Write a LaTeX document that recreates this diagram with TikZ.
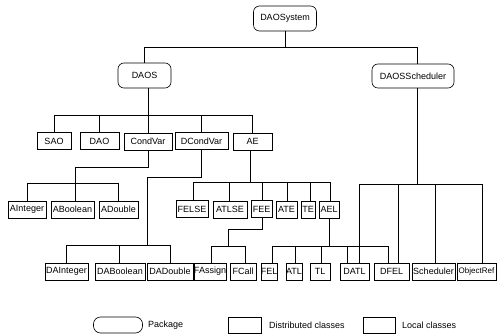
\documentclass[tikz,border=0pt]{standalone}
\usepackage{fontspec}
\setmainfont{Liberation Sans}
\begin{document}
\begin{tikzpicture}[x=1pt,y=-1pt,
  lbl/.style={font=\fontsize{9}{10}\selectfont},
  pkg/.style={draw, rounded corners=6pt, line width=0.6pt, inner sep=0pt, lbl},
  dcls/.style={draw, line width=1pt, inner sep=0pt, minimum height=17pt, lbl},
  lcls/.style={draw, line width=0.5pt, inner sep=0pt, minimum height=17pt, lbl},
  link/.style={line width=0.6pt}]
\useasboundingbox (0,0) rectangle (497,336);
% packages
\node[pkg, minimum width=63pt, minimum height=25pt] (daosystem) at (285,18.5) {DAOSystem};
\node[pkg, minimum width=53pt, minimum height=25pt] (daos) at (144.5,75.5) {DAOS};
\node[pkg, minimum width=82pt, minimum height=24pt] (daossch) at (413,76) {DAOSScheduler};
% row 1
\node[dcls, minimum width=34pt] (sao) at (54,141.5) {SAO};
\node[dcls, minimum width=39pt] (dao) at (99.5,141.5) {DAO};
\node[lcls, minimum width=48pt] (condvar) at (148,141.5) {CondVar};
\node[dcls, minimum width=53pt] (dcondvar) at (201.5,141.5) {DCondVar};
\node[lcls, minimum width=39pt] (ae) at (252.5,141.5) {AE};
% row 2
\node[lcls, minimum width=38pt] (ainteger) at (27,209.5) {AInteger};
\node[lcls, minimum width=43pt] (aboolean) at (72.5,209.5) {ABoolean};
\node[lcls, minimum width=39pt] (adouble) at (118.5,209.5) {ADouble};
\node[dcls, minimum width=32pt] (felse) at (192,209.5) {FELSE};
\node[lcls, minimum width=34pt] (atlse) at (230,209.5) {ATLSE};
\node[dcls, minimum width=21pt] (fee) at (261.5,209.5) {FEE};
\node[lcls, minimum width=21pt] (ate) at (286.5,209.5) {ATE};
\node[lcls, minimum width=14pt] (te) at (308,209.5) {TE};
\node[lcls, minimum width=20pt] (ael) at (329,209.5) {AEL};
% row 3
\node[dcls, minimum width=43pt] (dainteger) at (66.5,271.5) {DAInteger};
\node[dcls, minimum width=50pt] (daboolean) at (120,271.5) {DABoolean};
\node[dcls, minimum width=46pt] (dadouble) at (170,271.5) {DADouble};
\node[lcls, minimum width=32pt] (fassign) at (210,271.5) {FAssign};
\node[lcls, minimum width=26pt] (fcall) at (243,271.5) {FCall};
\node[lcls, minimum width=16pt] (fel) at (269,271.5) {FEL};
\node[dcls, minimum width=16pt] (atl) at (294,271.5) {ATL};
\node[lcls, minimum width=20pt] (tl) at (320,271.5) {TL};
\node[dcls, minimum width=29pt] (datl) at (354.5,271.5) {DATL};
\node[dcls, minimum width=35pt] (dfel) at (391.5,271.5) {DFEL};
\node[lcls, minimum width=43pt] (scheduler) at (433.5,271.5) {Scheduler};
\node[lcls, minimum width=38.5pt, font=\fontsize{8}{9}\selectfont] (objectref) at (476.5,271.5) {ObjectRef};
% connectors
\draw[link] (daosystem.south) -- ++(0,16) coordinate (sysbar) -| (daos.north);
\draw[link] (sysbar) -| ([xshift=4pt]daossch.north);
\draw[link] ([xshift=3.5pt]daos.south) -- ++(0,27) coordinate (daosbar);
\draw[link] (daosbar) -| (sao.north);
\draw[link] (daosbar) -| (dao.north);
\draw[link] (daosbar) -- (condvar.north);
\draw[link] (daosbar) -| (dcondvar.north);
\draw[link] (daosbar) -| ([xshift=-0.5pt]ae.north);
% CondVar
\draw[link] (condvar.south) -- ++(0,17) -| ([xshift=2.5pt]aboolean.north);
\draw[link] (ainteger.north) -- ++(0,-17) -| (adouble.north);
% DCondVar
\draw[link] (dcondvar.south) -- ++(0,27) -| ++(-54,69) coordinate (dcbar);
\draw[link] (dainteger.north) -- ++(0,-17) -| (dadouble.north);
\draw[link] ([xshift=-1pt]daboolean.north) -- ++(0,-17);
% AE
\draw[link] ([xshift=-2.5pt]ae.south) -- ++(0,32) coordinate (aebar);
\draw[link] (aebar) -| ([xshift=1pt]felse.north);
\draw[link] (aebar) -| ([xshift=-1pt]atlse.north);
\draw[link] (aebar) -| ([xshift=0.5pt]fee.north);
\draw[link] (aebar) -| ([xshift=0.5pt]ate.north);
\draw[link] (aebar) -| ([xshift=2pt]te.north);
\draw[link] (aebar) -| ([xshift=1pt]ael.north);
% FEE
\draw[link] ([xshift=0.5pt]fee.south) -- ++(0,11) -| ++(-34,18);
\draw[link] ([xshift=1pt]fassign.north) -- ++(0,-16) -| ([xshift=2pt]fcall.north);
% AEL
\draw[link] (ael.south) -- ++(0,28) coordinate (aelbar);
\draw[link] (aelbar) -| ([xshift=3pt]fel.north);
\draw[link] (aelbar) -| ([xshift=1pt]atl.north);
\draw[link] (aelbar) -| ([xshift=1pt]tl.north);
\draw[link] (aelbar) -| ([xshift=-7pt]datl.north);
\draw[link] (aelbar) -| ([xshift=-3.5pt]dfel.north);
% DAOSScheduler
\draw[link] ([xshift=4pt]daossch.south) -- ++(0,96) coordinate (schbar);
\draw[link] (schbar) -| ([xshift=4.5pt]datl.north);
\draw[link] (schbar) -| ([xshift=6.5pt]dfel.north);
\draw[link] (schbar) -| ([xshift=1.5pt]scheduler.north);
\draw[link] (schbar) -| ([xshift=6pt]objectref.north);
% legend
\node[pkg, rounded corners=7pt, minimum width=49pt, minimum height=16pt] (legpkg) at (118,325) {};
\node[lbl, anchor=west, inner sep=0pt] (legpkgtxt) at (148,325) {Package};
\node[dcls, minimum width=33pt, minimum height=16pt] (legdist) at (244.5,325) {};
\node[lbl, anchor=west, inner sep=0pt] (legdisttxt) at (269,325) {Distributed classes};
\node[lcls, minimum width=32pt, minimum height=16pt] (legloc) at (379,325) {};
\node[lbl, anchor=west, inner sep=0pt] (legloctxt) at (402,325) {Local classes};
\end{tikzpicture}
\end{document}
